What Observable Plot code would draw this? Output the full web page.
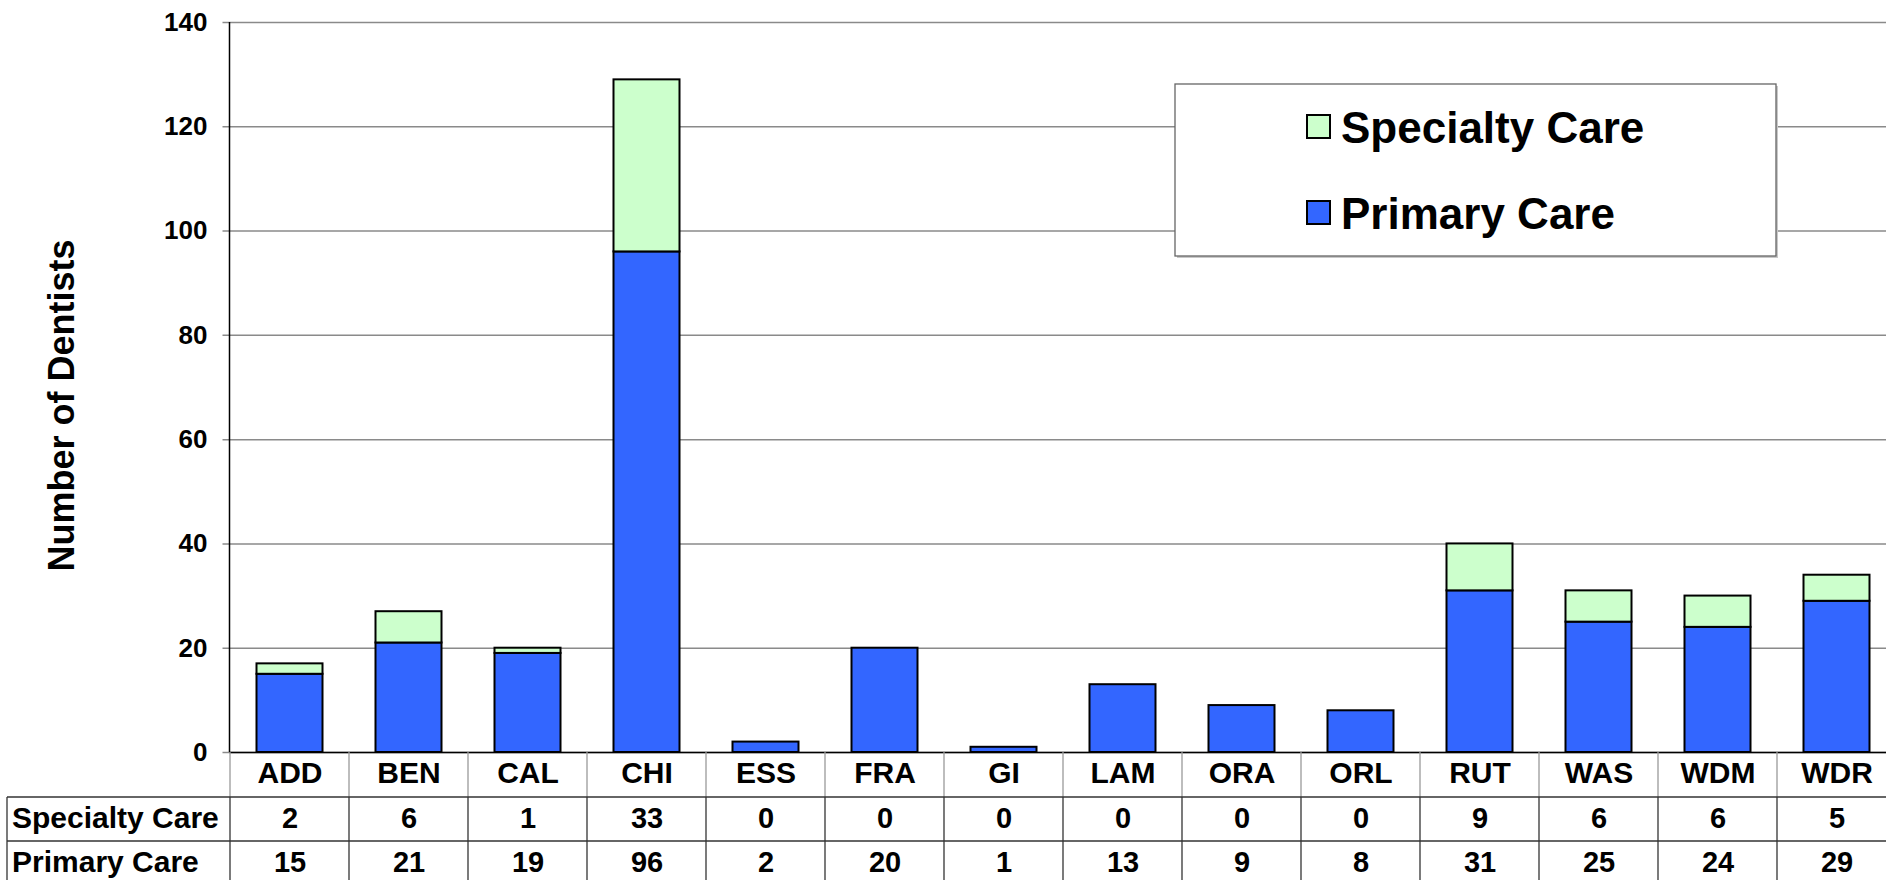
<!DOCTYPE html>
<html><head><meta charset="utf-8">
<script src="https://cdn.jsdelivr.net/npm/d3@7"></script>
<script src="https://cdn.jsdelivr.net/npm/@observablehq/plot@0.6"></script>
<style>
html,body{margin:0;padding:0;background:#fff;overflow:hidden}
#chart svg{display:block}
</style></head><body><div id="chart"></div>
<script>
const categories = ["ADD","BEN","CAL","CHI","ESS","FRA","GI","LAM","ORA","ORL","RUT","WAS","WDM","WDR"];
const specialtyCare = [2,6,1,33,0,0,0,0,0,0,9,6,6,5];
const primaryCare = [15,21,19,96,2,20,1,13,9,8,31,25,24,29];
const seriesNames = ["Specialty Care","Primary Care"];
const seriesColors = ["#CCFFCC","#3366FF"];
const yTicks = [0,20,40,60,80,100,120,140];
const yLabel = "Number of Dentists";

const rows = [];
categories.forEach((c,i)=>{
  rows.push({cat:c, series:seriesNames[1], value: primaryCare[i]});
  rows.push({cat:c, series:seriesNames[0], value: specialtyCare[i]});
});

const W = 1886, H = 880;
const font = "'Liberation Sans', Arial, Helvetica, sans-serif";
const plotLeft = 229.5, bandStep = 119, plotTop = 22, plotBottom = 752;
const txt = {fontWeight: "bold", fill: "black", lineAnchor: "middle"};

const plot = Plot.plot({
  width: W, height: H,
  marginTop: plotTop, marginBottom: H - plotBottom, marginLeft: plotLeft, marginRight: 0,
  style: {fontFamily: font, fontWeight: "bold", fontSize: "26px", color: "black", background: "white"},
  x: {domain: categories, range: [plotLeft, plotLeft + categories.length * bandStep], padding: 0, axis: null},
  y: {domain: [0, 140], axis: null},
  color: {domain: [seriesNames[1], seriesNames[0]], range: [seriesColors[1], seriesColors[0]]},
  marks: [
    Plot.ruleY(yTicks, {stroke: "#8a8a8a", strokeWidth: 1.5, insetLeft: -7}),
    Plot.barY(rows, {x: "cat", y: "value", fill: "series", stroke: "black", strokeWidth: 2, insetLeft: 26.5, insetRight: 26.5}),
    Plot.ruleY([0], {stroke: "black", strokeWidth: 1.5}),
    Plot.text(yTicks, {...txt, y: d => d, text: d => String(d), frameAnchor: "left", dx: -22.5, textAnchor: "end", fontSize: 26}),
    Plot.text(categories, {...txt, x: d => d, text: d => d, frameAnchor: "bottom", dy: 21, fontSize: 30}),
    Plot.text(categories, {...txt, x: d => d, text: (d, i) => String(specialtyCare[i]), frameAnchor: "bottom", dy: 66, fontSize: 29}),
    Plot.text(categories, {...txt, x: d => d, text: (d, i) => String(primaryCare[i]), frameAnchor: "bottom", dy: 110, fontSize: 29}),
    Plot.text([seriesNames[0]], {...txt, text: d => d, frameAnchor: "bottom-left", dx: -218, dy: 66, textAnchor: "start", fontSize: 30}),
    Plot.text([seriesNames[1]], {...txt, text: d => d, frameAnchor: "bottom-left", dx: -218, dy: 110, textAnchor: "start", fontSize: 30}),
    Plot.text([yLabel], {...txt, text: d => d, frameAnchor: "left", dx: -167.5, dy: 18, rotate: -90, textAnchor: "middle", fontSize: 36})
  ]
});

document.getElementById("chart").appendChild(plot);

// table grid, axis line and legend drawn with the plot's own x scale
const svg = d3.select(plot);
const xs = plot.scale("x");
const bw = xs.bandwidth;
const edges = categories.map(c => xs.apply(c)).concat([xs.apply(categories[categories.length - 1]) + bw]);
const g = svg.append("g").attr("fill", "none");
g.append("line").attr("x1", plotLeft).attr("x2", plotLeft).attr("y1", plotTop).attr("y2", plotBottom)
  .attr("stroke", "black").attr("stroke-width", 1.5);
edges.forEach(x => g.append("line").attr("x1", x).attr("x2", x).attr("y1", plotBottom).attr("y2", 797)
  .attr("stroke", "#9a9a9a").attr("stroke-width", 1.3));
edges.concat([7]).forEach(x => g.append("line").attr("x1", x).attr("x2", x).attr("y1", 797).attr("y2", H)
  .attr("stroke", "#333").attr("stroke-width", 1.3));
[797, 841].forEach(y => g.append("line").attr("x1", 7).attr("x2", W).attr("y1", y).attr("y2", y)
  .attr("stroke", "#333").attr("stroke-width", 1.3));

// legend
const lg = svg.append("g");
lg.append("rect").attr("x", 1177).attr("y", 86).attr("width", 601).attr("height", 172).attr("fill", "#c8c8c8");
lg.append("rect").attr("x", 1175).attr("y", 84).attr("width", 601).attr("height", 172)
  .attr("fill", "white").attr("stroke", "#666").attr("stroke-width", 1.3);
const legendY = [127, 213];
seriesNames.forEach((name, i) => {
  lg.append("rect").attr("x", 1307).attr("y", legendY[i] - 12).attr("width", 23).attr("height", 23)
    .attr("fill", seriesColors[i]).attr("stroke", "black").attr("stroke-width", 2);
  lg.append("text").attr("x", 1341).attr("y", legendY[i]).attr("dy", "0.36em").attr("text-anchor", "start")
    .attr("font-family", font).attr("font-weight", "bold").attr("font-size", 44).attr("fill", "black")
    .text(name);
});
</script></body></html>
